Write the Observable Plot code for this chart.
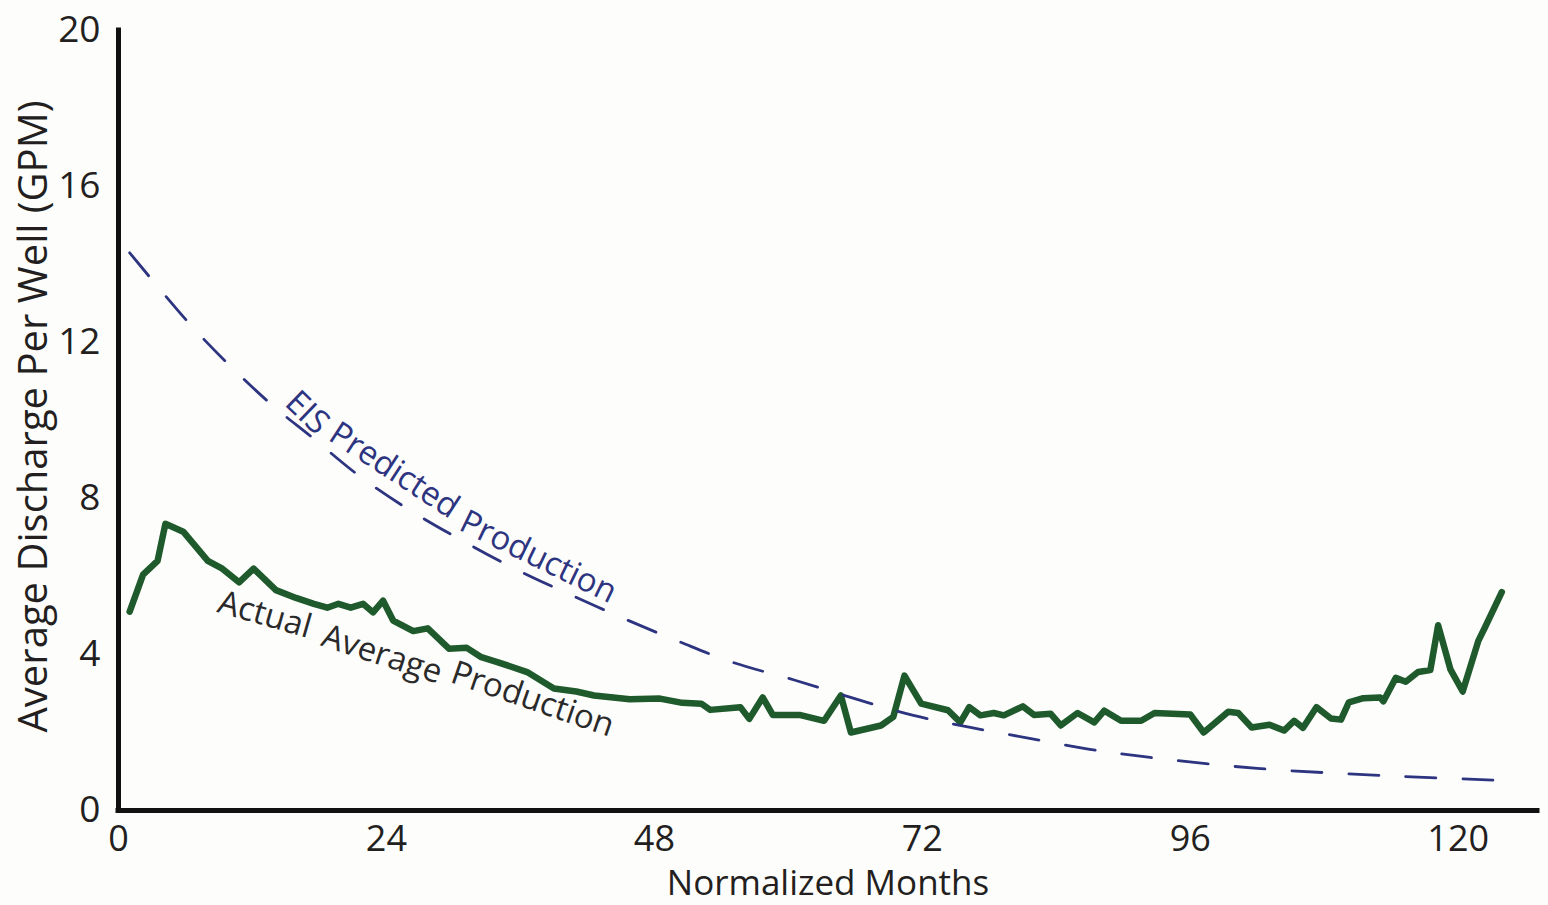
<!DOCTYPE html>
<html>
<head>
<meta charset="utf-8">
<script src="https://cdn.jsdelivr.net/npm/d3@7"></script>
<script src="https://cdn.jsdelivr.net/npm/@observablehq/plot@0.6"></script>
<style>
html, body { margin: 0; padding: 0; background: #fdfdfb; }
#chart svg { display: block; }
</style>
</head>
<body>
<div id="chart"></div>
<script>
// Actual average production (GPM) by normalized month
const actualMonths = [1, 2.2, 3.5, 4.2, 5.8, 8, 9.3, 10.8, 12.1, 14.1, 15.9, 17.5, 18.7, 19.7, 20.8, 21.9, 22.8, 23.7, 24.6, 26.4, 27.7, 29.6, 31.2, 32.5, 34, 36.6, 39, 41, 42.6, 45.8, 48.5, 50.5, 52.2, 53, 55.7, 56.5, 57.7, 58.6, 61, 63.2, 64.7, 65.6, 68.3, 69.4, 70.4, 71.9, 74.3, 75.4, 76.2, 77.2, 78.4, 79.3, 81, 82, 83.5, 84.4, 85.9, 87.4, 88.3, 89.8, 91.6, 92.8, 96, 97.2, 99.4, 100.3, 101.5, 103.1, 104.4, 105.3, 106.1, 107.3, 108.6, 109.5, 110.2, 111.5, 113, 113.3, 114.4, 115.3, 116.4, 117.5, 118.2, 119.3, 120.4, 121.8, 122.4, 123.9];
const actualValues = [5.1, 6.05, 6.4, 7.35, 7.15, 6.4, 6.2, 5.85, 6.2, 5.65, 5.45, 5.3, 5.2, 5.3, 5.2, 5.3, 5.08, 5.38, 4.87, 4.6, 4.67, 4.15, 4.17, 3.93, 3.8, 3.55, 3.13, 3.05, 2.95, 2.85, 2.87, 2.76, 2.74, 2.58, 2.65, 2.35, 2.9, 2.45, 2.45, 2.3, 2.95, 2.0, 2.18, 2.4, 3.46, 2.74, 2.57, 2.26, 2.65, 2.44, 2.5, 2.44, 2.67, 2.45, 2.48, 2.18, 2.5, 2.26, 2.56, 2.3, 2.3, 2.5, 2.46, 2.0, 2.53, 2.5, 2.13, 2.2, 2.05, 2.3, 2.12, 2.65, 2.36, 2.33, 2.77, 2.88, 2.9, 2.8, 3.4, 3.3, 3.55, 3.6, 4.75, 3.62, 3.05, 4.35, 4.7, 5.6];

// EIS predicted production (GPM)
const eisMonths = [1, 6.3, 10, 13.9, 17.2, 21.7, 26.1, 30.6, 35.7, 40.5, 45.6, 50.3, 55, 60.6, 65.8, 71.2, 76.3, 81.6, 87, 92.4, 102, 113, 124];
const eisValues = [14.3, 12.5, 11.4, 10.36, 9.6, 8.55, 7.7, 6.95, 6.17, 5.53, 4.88, 4.32, 3.8, 3.34, 2.88, 2.44, 2.13, 1.85, 1.57, 1.36, 1.08, 0.9, 0.77];

const xTicks = [0, 24, 48, 72, 96, 120];
const yTicks = [0, 4, 8, 12, 16, 20];

const xTitle = "Normalized Months";
const yTitle = "Average Discharge Per Well (GPM)";
const eisWords = ["EIS", "Predicted", "Production"];
const actualWords = ["Actual", "Average", "Production"];

const actual = actualMonths.map((m, i) => ({month: m, value: actualValues[i]}));
const eis = eisMonths.map((m, i) => ({month: m, value: eisValues[i]}));

// annotation placement (in data units) along the curves
const eisLabel = eisWords.map((w, i) => ({word: w, month: [16.9, 24.7, 37.6][i], value: [10.2, 8.72, 6.5][i], angle: [44, 33, 26][i]}));
const actualLabel = actualWords.map((w, i) => ({word: w, month: [13.1, 23.6, 37.1][i], value: [5.02, 4.0, 2.85][i], angle: [16, 18, 19][i]}));

const ink = "#231f20";

const chart = Plot.plot({
  width: 1548,
  height: 905,
  marginLeft: 118,
  marginRight: 11,
  marginTop: 30,
  marginBottom: 95,
  style: {fontFamily: "'Open Sans', sans-serif", fontSize: "36px", color: ink, background: "#fdfdfb"},
  x: {domain: [0, 127.1]},
  y: {domain: [0, 20]},
  marks: [
    Plot.axisX(xTicks, {tickSize: 0, tickPadding: 15, label: null, fontSize: 36, fill: ink}),
    Plot.axisY(yTicks, {tickSize: 0, tickPadding: 18, label: null, fontSize: 37, fill: ink}),
    Plot.line(actual, {x: "month", y: "value", stroke: "#1f5a2c", strokeWidth: 6.5, strokeLinejoin: "round", strokeLinecap: "round"}),
    Plot.line(eis, {x: "month", y: "value", stroke: "#2d3480", strokeWidth: 2.8, strokeDasharray: "30,27", curve: "catmull-rom"}),
    Plot.ruleX([0], {stroke: "#111", strokeWidth: 5, strokeLinecap: "square"}),
    Plot.ruleY([0], {stroke: "#111", strokeWidth: 5, strokeLinecap: "square"}),
    Plot.text(eisLabel, {x: "month", y: "value", text: "word", rotate: "angle", fontSize: 33, fill: "#2d3480"}),
    Plot.text(actualLabel, {x: "month", y: "value", text: "word", rotate: "angle", fontSize: 33, fill: "#2a2a2a"}),
    Plot.text([xTitle], {frameAnchor: "bottom", textAnchor: "middle", lineAnchor: "middle", dy: 73, fontSize: 35, fill: ink}),
    Plot.text([yTitle], {frameAnchor: "left", textAnchor: "middle", lineAnchor: "middle", dx: -84, dy: -4, rotate: -90, fontSize: 40, fill: ink})
  ]
});

document.getElementById("chart").appendChild(chart);
</script>
</body>
</html>
